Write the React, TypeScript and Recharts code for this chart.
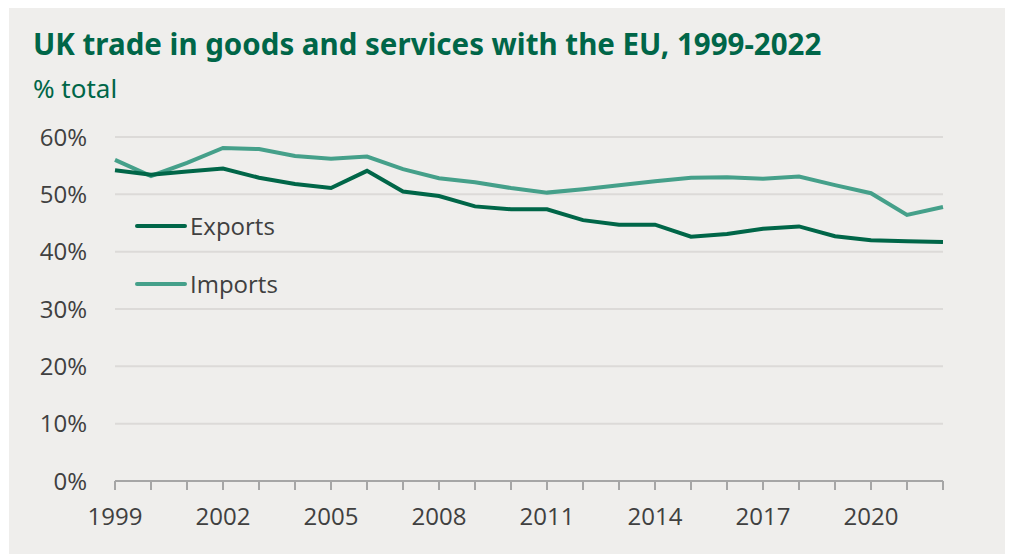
import React from "react";
import { LineChart, Line, XAxis, YAxis, CartesianGrid } from "recharts";

const years = [
  1999, 2000, 2001, 2002, 2003, 2004, 2005, 2006, 2007, 2008, 2009, 2010,
  2011, 2012, 2013, 2014, 2015, 2016, 2017, 2018, 2019, 2020, 2021, 2022,
];

const exportsShare = [
  54.2, 53.4, 54.0, 54.5, 52.9, 51.8, 51.1, 54.1, 50.5, 49.7, 47.9, 47.4,
  47.4, 45.5, 44.7, 44.7, 42.6, 43.1, 44.0, 44.4, 42.7, 42.0, 41.8, 41.7,
];

const importsShare = [
  56.0, 53.2, 55.5, 58.1, 57.9, 56.7, 56.2, 56.6, 54.4, 52.8, 52.1, 51.1,
  50.3, 50.9, 51.6, 52.3, 52.9, 53.0, 52.7, 53.1, 51.6, 50.2, 46.4, 47.8,
];

const yTicks = [0, 10, 20, 30, 40, 50, 60];

const data = years.map((year, i) => ({
  year,
  exports: exportsShare[i],
  imports: importsShare[i],
}));

const GREEN = "#006648";
const TEAL = "#45A08A";
const TEXT = "#404040";
const FONT = "'Open Sans', 'Noto Sans', sans-serif";

const LegendItem = ({ top, color, label }: { top: number; color: string; label: string }) => (
  <div
    style={{
      position: "absolute",
      left: 126,
      top,
      display: "flex",
      alignItems: "center",
      fontFamily: FONT,
      fontSize: 24,
      color: TEXT,
    }}
  >
    <span
      style={{
        display: "inline-block",
        width: 52,
        height: 4,
        borderRadius: 2,
        background: color,
        marginRight: 3,
      }}
    />
    {label}
  </div>
);

const App: React.FC = () => {
  return (
    <div
      style={{
        position: "absolute",
        left: 9,
        top: 8,
        width: 996,
        height: 546,
        background: "#EFEEEC",
      }}
    >
      <div
        style={{
          position: "absolute",
          left: 24,
          top: 15,
          fontFamily: "'Noto Sans', sans-serif",
          fontWeight: 700,
          fontSize: 29.5,
          color: GREEN,
          whiteSpace: "nowrap",
        }}
      >
        UK trade in goods and services with the EU, 1999-2022
      </div>
      <div
        style={{
          position: "absolute",
          left: 24,
          top: 62,
          fontFamily: "'Noto Sans', sans-serif",
          fontSize: 26,
          color: GREEN,
        }}
      >
        % total
      </div>
      <LineChart
        width={996}
        height={546}
        data={data}
        margin={{ top: 129, right: 62, bottom: 23, left: 0 }}
      >
        <CartesianGrid vertical={false} stroke="#DCDAD8" strokeWidth={2} />
        <XAxis
          dataKey="year"
          interval={0}
          tickFormatter={(v) => ((Number(v) - 1999) % 3 === 0 ? String(v) : "")}
          stroke="#A6A6A6"
          strokeWidth={2}
          tickSize={9}
          tickMargin={18}
          height={50}
          tick={{ fill: TEXT, fontSize: 24, fontFamily: FONT }}
        />
        <YAxis
          domain={[0, 60]}
          ticks={yTicks}
          tickFormatter={(v) => `${v}%`}
          axisLine={false}
          tickLine={false}
          tickSize={0}
          tickMargin={28}
          width={106}
          tick={{ fill: TEXT, fontSize: 24, fontFamily: FONT }}
        />
        <Line
          dataKey="imports"
          stroke={TEAL}
          strokeWidth={4}
          dot={false}
          type="linear"
          isAnimationActive={false}
        />
        <Line
          dataKey="exports"
          stroke={GREEN}
          strokeWidth={4}
          dot={false}
          type="linear"
          isAnimationActive={false}
        />
      </LineChart>
      <LegendItem top={201} color={GREEN} label="Exports" />
      <LegendItem top={259} color={TEAL} label="Imports" />
    </div>
  );
};

export default App;
